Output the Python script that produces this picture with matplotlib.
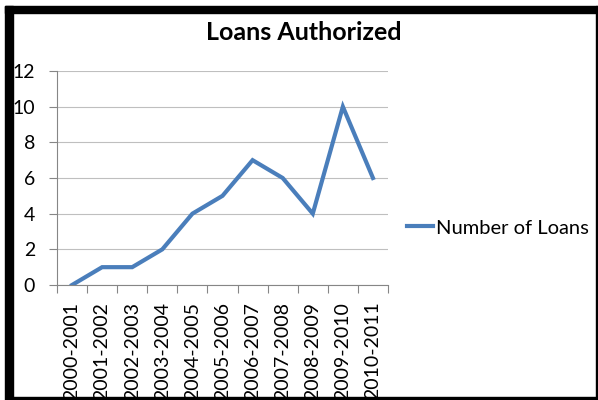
import matplotlib

matplotlib.use("Agg")
import matplotlib.pyplot as plt
from matplotlib.lines import Line2D
from matplotlib.patches import Rectangle

years = ["2000-2001", "2001-2002", "2002-2003", "2003-2004", "2004-2005", "2005-2006",
         "2006-2007", "2007-2008", "2008-2009", "2009-2010", "2010-2011"]
loans = [0, 1, 1, 2, 4, 5, 7, 6, 4, 10, 6]
y_ticks = [0, 2, 4, 6, 8, 10, 12]

LINE_BLUE = "#4A7EBB"
GRID_GRAY = "#BFBFBF"
AXIS_GRAY = "#868686"
W, H = 598, 400

plt.rcParams["font.family"] = ["Lato", "DejaVu Sans"]

fig = plt.figure(figsize=(W / 100, H / 100), dpi=100)
ax = fig.add_axes([57 / W, 1 - 285 / H, (388 - 57) / W, (285 - 71) / H])

x = list(range(len(years)))
ax.plot(x, loans, color=LINE_BLUE, lw=3.0, solid_joinstyle="miter")

ax.set_xlim(-0.5, len(years) - 0.5)
ax.set_ylim(0, 12)
ax.set_yticks(y_ticks)
ax.set_yticklabels([str(v) for v in y_ticks], fontsize=14)
ax.set_xticks(x)
ax.set_xticklabels(years, rotation=90, fontsize=14)
# category boundaries get the tick marks, labels sit between them
ax.set_xticks([i - 0.5 for i in range(len(years) + 1)], minor=True)
ax.tick_params(axis="x", which="major", length=0, pad=12)
ax.tick_params(axis="x", which="minor", length=5.5, color=AXIS_GRAY, width=0.8)
ax.tick_params(axis="y", length=5.8, color=AXIS_GRAY, width=0.8, pad=10)

ax.grid(axis="y", color=GRID_GRAY, lw=0.8)
ax.set_axisbelow(True)
for side in ("top", "right"):
    ax.spines[side].set_visible(False)
for side in ("left", "bottom"):
    ax.spines[side].set_color(AXIS_GRAY)
    ax.spines[side].set_linewidth(0.8)

fig.text(304 / W, 1 - 33 / H, "Loans Authorized", ha="center", va="center",
         fontsize=18, fontweight="bold")

fig.legend(handles=[Line2D([], [], color=LINE_BLUE, lw=3.0)], labels=["Number of Loans"],
           loc="center left", bbox_to_anchor=(407 / W, 1 - 228 / H), frameon=False,
           fontsize=14.5, handlelength=1.3, handletextpad=0.15, borderpad=0, borderaxespad=0)

# black frame around the chart
frame = [
    (5, 1 - 13 / H, 592, 7 / H),     # top bar
    (5, 0, 8, 1 - 6 / H),            # left bar
    (13, 0, 584, 3 / H),             # bottom line
    (596, 0, 1.5, 1 - 6 / H),        # right line
]
for x0, y0, w, h in frame:
    fig.patches.append(Rectangle((x0 / W, y0), w / W, h, transform=fig.transFigure,
                                 color="black", zorder=10))

fig.savefig("out.png", dpi=100)
